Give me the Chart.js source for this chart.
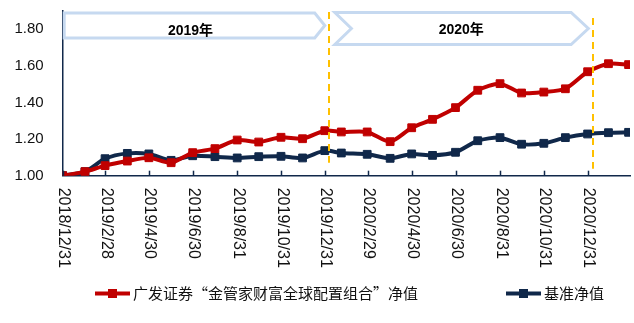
<!DOCTYPE html>
<html>
<head>
<meta charset="utf-8">
<script src="https://cdn.jsdelivr.net/npm/chart.js@4.4.1/dist/chart.umd.min.js"></script>
<style>
  html, body { margin: 0; padding: 0; background: #fff; }
  #wrap { width: 634px; height: 323px; }
</style>
</head>
<body>
<div id="wrap"><canvas id="myChart"></canvas></div>
<script>
// data
const dates = ['2018/12/31', '2019/1/31', '2019/2/28', '2019/3/31', '2019/4/30', '2019/5/31', '2019/6/30',
  '2019/7/31', '2019/8/31', '2019/9/30', '2019/10/31', '2019/11/30', '2019/12/31',
  '2020/1/23', '2020/2/28', '2020/3/31', '2020/4/30', '2020/5/29', '2020/6/30', '2020/7/31',
  '2020/8/31', '2020/9/30', '2020/10/31', '2020/11/30', '2020/12/31', '2021/1/29', '2021/2/26'];
const fundNav = [1.000, 1.022, 1.055, 1.080, 1.098, 1.071, 1.126, 1.148, 1.195, 1.184, 1.210, 1.202, 1.246,
  1.239, 1.239, 1.186, 1.262, 1.308, 1.372, 1.467, 1.503, 1.452, 1.457, 1.475, 1.568, 1.612, 1.607];
const benchNav = [1.000, 1.022, 1.093, 1.122, 1.119, 1.084, 1.109, 1.104, 1.097, 1.104, 1.106, 1.097, 1.137,
  1.124, 1.117, 1.095, 1.119, 1.111, 1.128, 1.191, 1.208, 1.172, 1.177, 1.208, 1.228, 1.235, 1.237];
const tickDates = ['2018/12/31', '2019/2/28', '2019/4/30', '2019/6/30', '2019/8/31', '2019/10/31', '2019/12/31',
  '2020/2/29', '2020/4/30', '2020/6/30', '2020/8/31', '2020/10/31', '2020/12/31'];
const yTicks = [1.00, 1.20, 1.40, 1.60, 1.80];
const seriesNames = ['广发证券“金管家财富全球配置组合”净值', '基准净值'];
const yearLabels = ['2019年', '2020年'];
const yearSplits = ['2020/1/6', '2021/1/7'];

const red = '#C00000';
const navy = '#10284A';
const day0 = Date.UTC(2018, 11, 31);
const toDay = s => {
  const [y, m, d] = s.split('/').map(Number);
  return (Date.UTC(y, m - 1, d) - day0) / 864e5;
};

// banners, dashed year lines, inward ticks, rotated labels, legend
const decor = {
  id: 'decor',
  afterDatasetsDraw(chart) {
    const c = chart.ctx, xs = chart.scales.x, a = chart.chartArea;
    c.save();
    c.strokeStyle = '#FFC000';
    c.lineWidth = 2;
    c.setLineDash([7, 5]);
    const tops = [12, 18];
    yearSplits.forEach((s, i) => {
      const px = Math.round(xs.getPixelForValue(toDay(s)));
      c.beginPath();
      c.moveTo(px, tops[i]);
      c.lineTo(px, a.bottom - 13 + i * 6);
      c.stroke();
    });
    c.restore();
  },
  afterDraw(chart) {
    const c = chart.ctx, xs = chart.scales.x, a = chart.chartArea;
    c.save();
    // inward tick marks
    c.strokeStyle = navy;
    c.lineWidth = 1.5;
    tickDates.forEach(s => {
      const px = Math.round(xs.getPixelForValue(toDay(s))) + 0.5;
      c.beginPath();
      c.moveTo(px, a.bottom);
      c.lineTo(px, a.bottom - 5);
      c.stroke();
    });
    // rotated date labels
    c.fillStyle = '#111';
    c.font = '16px "Liberation Sans", Arial, sans-serif';
    c.textAlign = 'left';
    c.textBaseline = 'middle';
    tickDates.forEach(s => {
      const px = xs.getPixelForValue(toDay(s));
      c.save();
      c.translate(px + 1, a.bottom + 12);
      c.rotate(Math.PI / 2);
      c.fillText(s, 0, 0);
      c.restore();
    });
    // year banners
    c.strokeStyle = '#C6D9F0';
    c.lineWidth = 3;
    c.fillStyle = '#fff';
    const xL = xs.getPixelForValue(0) + 1.5;
    const s1 = xs.getPixelForValue(toDay('2019/12/17'));
    const p1 = xs.getPixelForValue(toDay('2019/12/31'));
    c.beginPath();
    c.moveTo(xL, 13); c.lineTo(s1, 13); c.lineTo(p1, 25.5); c.lineTo(s1, 38); c.lineTo(xL, 38);
    c.closePath(); c.fill(); c.stroke();
    const b2 = xs.getPixelForValue(toDay('2020/1/14'));
    const n2 = xs.getPixelForValue(toDay('2020/2/6'));
    const s2 = xs.getPixelForValue(toDay('2020/12/8'));
    const p2 = xs.getPixelForValue(toDay('2021/1/1'));
    c.beginPath();
    c.moveTo(b2, 12.5); c.lineTo(s2, 12.5); c.lineTo(p2, 28.5); c.lineTo(s2, 44.5); c.lineTo(b2, 44.5);
    c.lineTo(n2, 28.5); c.closePath(); c.fill(); c.stroke();
    c.fillStyle = '#000';
    c.font = 'bold 14px "Liberation Sans", "Noto Sans CJK SC", sans-serif';
    c.textAlign = 'center';
    c.fillText(yearLabels[0], (xL + s1) / 2 + 1, 31);
    c.fillText(yearLabels[1], (n2 + s2) / 2, 30);
    // legend
    const legendX = [95, 506];
    chart.data.datasets.forEach((ds, i) => {
      const x = legendX[i], y = 293.5;
      c.strokeStyle = ds.borderColor;
      c.lineWidth = 4;
      c.beginPath();
      c.moveTo(x, y); c.lineTo(x + 35, y);
      c.stroke();
      c.fillStyle = ds.borderColor;
      c.fillRect(x + 13, y - 4.5, 9, 9);
      c.fillStyle = '#111';
      c.font = '15px "Noto Sans CJK SC", sans-serif';
      c.textAlign = 'left';
      c.textBaseline = 'middle';
      c.fillText(ds.label, x + 38, y);
    });
    c.restore();
  }
};

const ctx = document.getElementById('myChart').getContext('2d');

const myChart = new Chart(ctx, {
  type: 'line',
  data: {
    datasets: [{
      label: seriesNames[0],
      data: dates.map((d, i) => ({ x: toDay(d), y: fundNav[i] })),
      borderColor: red,
      backgroundColor: red,
      borderWidth: 4,
      pointStyle: 'rect',
      pointRadius: 5.5,
      pointBorderWidth: 1,
      tension: 0.25
    }, {
      label: seriesNames[1],
      data: dates.map((d, i) => ({ x: toDay(d), y: benchNav[i] })),
      borderColor: navy,
      backgroundColor: navy,
      borderWidth: 4,
      pointStyle: 'rect',
      pointRadius: 5.5,
      pointBorderWidth: 1,
      tension: 0.25
    }]
  },
  options: {
    responsive: true,
    maintainAspectRatio: false,
    animation: false,
    layout: { autoPadding: false, padding: { left: 14, right: 4, top: 11, bottom: 147.3 } },
    plugins: {
      legend: { display: false },
      tooltip: { enabled: false }
    },
    scales: {
      x: {
        type: 'linear',
        min: 0,
        max: 790,
        grid: { display: false, drawTicks: false },
        border: { color: navy, width: 1.5 },
        ticks: { display: false },
        afterBuildTicks: scale => { scale.ticks = tickDates.map(s => ({ value: toDay(s) })); }
      },
      y: {
        min: 1,
        max: 1.9,
        grid: { display: false, drawTicks: false },
        border: { color: navy, width: 1.5 },
        afterBuildTicks: scale => { scale.ticks = yTicks.map(v => ({ value: v })); },
        afterFit: scale => {
          scale.width = 48.7;
          scale.paddingTop = 0;
          scale.paddingBottom = 0;
        },
        ticks: {
          padding: 19,
          color: '#111',
          font: { family: '"Liberation Sans", Arial, sans-serif', size: 15 },
          callback: v => v.toFixed(2)
        }
      }
    }
  },
  plugins: [decor]
});
</script>
</body>
</html>
